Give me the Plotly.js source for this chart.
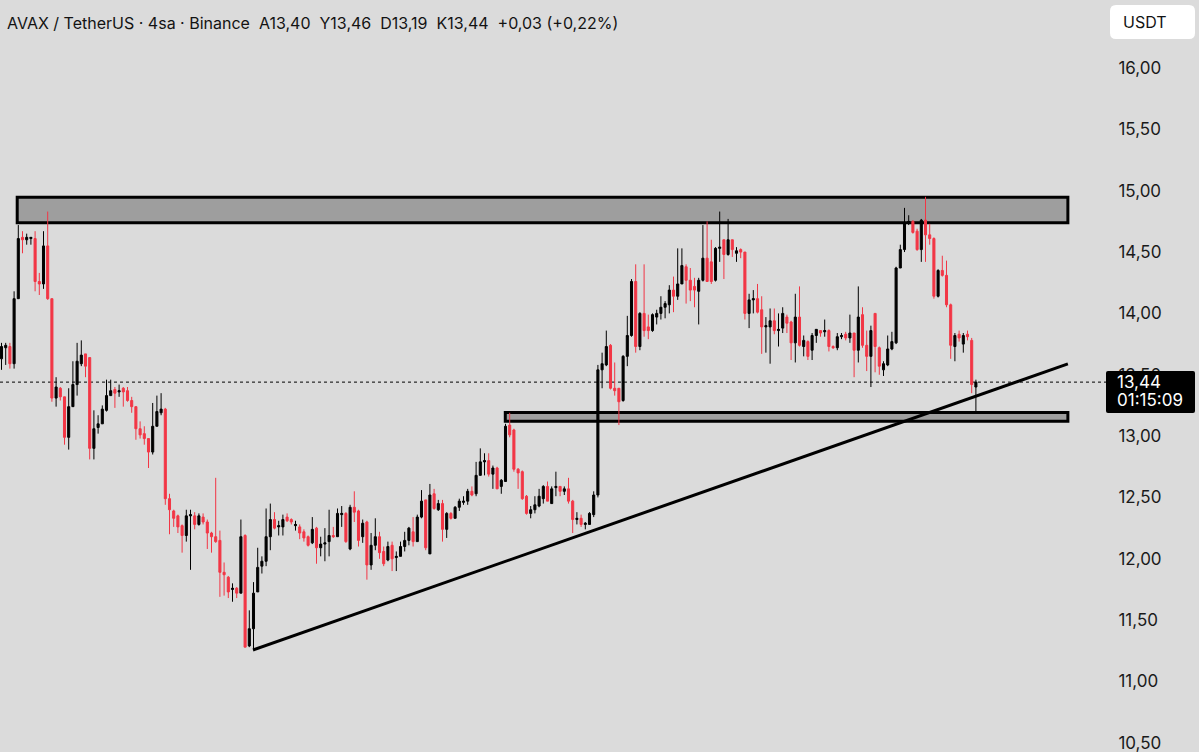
<!DOCTYPE html>
<html><head><meta charset="utf-8">
<script src="https://cdn.plot.ly/plotly-3.0.1.min.js"></script>
<style>html,body{margin:0;padding:0;background:#dbdbdb;overflow:hidden}#chart{width:1199px;height:752px}</style>
</head><body><div id="chart"></div>
<script>
// ---- data (AVAX/USDT, 4h candles) ----
const opens = [13.63,13.72,13.73,13.59,14.12,14.62,14.60,14.61,14.61,14.26,
14.24,14.55,14.12,13.31,13.39,13.32,12.99,13.24,13.42,13.59,
13.67,13.64,12.90,13.07,13.10,13.21,13.33,13.38,13.36,13.39,
13.37,13.29,13.24,13.06,13.02,12.98,12.87,13.08,13.19,13.22,
12.49,12.39,12.35,12.27,12.19,12.35,12.35,12.28,12.34,12.30,
12.21,12.18,12.15,11.89,11.85,11.75,11.76,11.72,12.19,11.29,
11.43,11.73,11.94,11.98,12.18,12.32,12.26,12.26,12.34,12.32,
12.27,12.26,12.22,12.18,12.13,12.25,12.09,12.12,12.14,12.19,
12.18,12.36,12.37,12.08,12.42,12.39,12.18,12.30,11.95,12.11,
12.18,12.06,11.99,12.11,12.01,12.02,12.10,12.15,12.22,12.14,
12.34,12.48,12.04,12.53,12.40,12.45,12.24,12.37,12.33,12.42,
12.46,12.47,12.55,12.53,12.68,12.79,12.80,12.69,12.74,12.59,
12.63,13.09,13.05,12.73,12.71,12.51,12.37,12.40,12.43,12.49,
12.59,12.45,12.58,12.59,12.55,12.57,12.47,12.32,12.33,12.28,
12.28,12.36,12.52,13.54,13.58,13.74,13.39,13.39,13.29,13.65,
13.82,14.26,13.73,14.00,13.89,13.86,13.97,14.00,14.05,14.07,
14.19,14.14,14.24,14.38,14.27,14.22,14.18,14.27,14.45,14.42,
14.27,14.53,14.60,14.48,14.60,14.49,14.52,14.50,14.00,14.11,
14.12,14.03,13.89,13.89,13.94,13.86,13.88,13.97,13.93,13.76,
13.97,13.73,13.77,13.70,13.82,13.86,13.85,13.86,13.73,13.72,
13.81,13.83,13.80,13.84,13.70,13.99,13.74,13.65,14.00,13.72,
13.54,13.58,13.71,13.76,14.37,14.52,14.74,14.75,14.67,14.52,
14.76,14.64,14.61,14.14,14.35,14.31,14.07,13.73,13.83,13.75,
13.83,13.78,13.40];
const highs = [13.76,13.76,13.76,14.18,14.72,14.67,14.65,14.62,14.67,14.33,
14.67,14.83,14.12,13.48,13.40,13.32,13.39,13.61,13.76,13.78,
13.67,13.64,13.21,13.17,13.25,13.46,13.46,13.40,13.42,13.40,
13.40,13.32,13.24,13.12,13.08,12.98,13.27,13.33,13.35,13.23,
12.53,12.40,12.36,12.28,12.40,12.40,12.38,12.37,12.37,12.32,
12.22,12.66,12.23,11.97,11.86,11.80,11.77,12.32,12.20,11.58,
11.81,12.09,12.02,12.41,12.45,12.38,12.31,12.36,12.37,12.33,
12.31,12.28,12.24,12.19,12.34,12.26,12.18,12.25,12.40,12.26,
12.41,12.43,12.38,12.44,12.55,12.40,12.32,12.31,12.21,12.33,
12.22,12.10,12.14,12.14,12.06,12.14,12.22,12.26,12.34,12.36,
12.56,12.48,12.61,12.57,12.48,12.48,12.38,12.38,12.43,12.49,
12.51,12.57,12.59,12.79,12.90,12.86,12.86,12.76,12.75,12.65,
13.10,13.19,13.06,12.74,12.72,12.52,12.43,12.51,12.57,12.60,
12.63,12.59,12.71,12.59,12.59,12.66,12.48,12.38,12.36,12.30,
12.38,12.55,13.58,13.68,13.86,13.75,13.60,13.39,13.66,13.98,
14.28,14.40,14.01,14.40,13.99,14.00,14.03,14.14,14.10,14.23,
14.30,14.53,14.53,14.40,14.37,14.29,14.29,14.72,14.75,14.60,
14.54,14.83,14.60,14.77,14.60,14.54,14.53,14.50,14.16,14.19,
14.24,14.14,13.97,14.04,14.04,14.00,14.05,13.99,13.94,14.16,
14.22,13.82,13.78,13.84,13.87,13.86,13.95,13.87,13.74,13.84,
13.84,13.85,13.99,13.84,14.22,14.05,13.86,13.90,14.00,13.73,
13.61,13.82,13.85,14.38,14.56,14.86,14.80,14.76,14.69,14.77,
14.95,14.73,14.62,14.36,14.47,14.43,14.08,13.84,13.86,13.84,
13.86,13.80,13.46];
const lows = [13.54,13.58,13.55,13.55,14.12,14.49,14.56,14.56,14.18,14.15,
14.20,14.11,13.28,13.24,13.29,12.93,12.89,13.24,13.33,13.57,
13.48,12.81,12.81,13.02,13.10,13.20,13.33,13.23,13.32,13.24,
13.28,13.19,12.97,12.98,12.93,12.74,12.85,13.08,13.17,12.44,
12.20,12.26,12.21,12.05,12.14,11.91,12.24,12.27,12.28,12.08,
12.05,12.13,11.69,11.70,11.68,11.65,11.68,11.72,11.28,11.28,
11.257,11.73,11.88,11.94,12.07,12.24,12.19,12.19,12.30,12.28,
12.23,12.16,12.14,12.10,12.12,11.96,12.02,11.98,12.02,12.17,
12.18,12.26,12.13,12.07,12.30,12.10,12.13,11.83,11.91,12.07,
12.00,11.94,11.98,11.90,11.90,12.02,12.06,12.11,12.10,12.14,
12.33,12.07,12.04,12.40,12.39,12.14,12.17,12.32,12.33,12.39,
12.44,12.44,12.51,12.51,12.68,12.68,12.67,12.57,12.57,12.53,
12.63,12.99,12.71,12.57,12.48,12.36,12.33,12.37,12.42,12.45,
12.47,12.45,12.51,12.51,12.52,12.45,12.21,12.28,12.26,12.24,
12.28,12.34,12.50,13.39,13.57,13.38,13.33,13.09,13.28,13.57,
13.81,13.68,13.70,13.81,13.79,13.85,13.91,13.95,13.96,14.00,
14.01,14.11,14.24,14.08,14.10,14.05,13.91,14.26,14.26,14.24,
14.26,14.42,14.28,14.47,14.46,14.42,14.45,13.95,13.88,14.00,
14.00,13.67,13.68,13.59,13.83,13.73,13.84,13.84,13.62,13.60,
13.73,13.65,13.62,13.62,13.76,13.81,13.81,13.69,13.71,13.70,
13.79,13.78,13.76,13.48,13.60,13.72,13.53,13.40,13.52,13.50,
13.49,13.57,13.70,13.75,14.37,14.50,14.72,14.65,14.51,14.42,
14.42,14.56,14.12,14.13,14.30,14.05,13.63,13.61,13.77,13.68,
13.78,13.35,13.19];
const closes = [13.73,13.74,13.59,14.12,14.61,14.60,14.62,14.62,14.26,14.24,
14.55,14.12,13.31,13.40,13.32,12.99,13.24,13.42,13.61,13.66,
13.57,12.90,13.06,13.10,13.22,13.33,13.37,13.35,13.37,13.36,
13.29,13.24,13.06,13.01,12.98,12.87,13.08,13.20,13.22,12.49,
12.40,12.33,12.26,12.19,12.35,12.36,12.28,12.35,12.30,12.21,
12.18,12.14,11.89,11.87,11.73,11.76,11.72,12.18,11.28,11.43,
11.72,11.93,11.98,12.18,12.32,12.25,12.27,12.32,12.31,12.30,
12.28,12.21,12.17,12.11,12.24,12.09,12.12,12.13,12.19,12.18,
12.37,12.37,12.14,12.42,12.38,12.15,12.29,11.95,12.11,12.18,
12.05,11.96,12.10,12.00,12.02,12.10,12.15,12.25,12.14,12.34,
12.47,12.09,12.52,12.41,12.45,12.24,12.37,12.33,12.42,12.47,
12.47,12.55,12.52,12.68,12.79,12.80,12.69,12.74,12.57,12.64,
13.08,13.01,12.73,12.70,12.49,12.37,12.40,12.44,12.51,12.59,
12.47,12.57,12.59,12.55,12.57,12.47,12.32,12.33,12.28,12.29,
12.37,12.52,13.54,13.59,13.73,13.39,13.37,13.28,13.65,13.82,
14.26,13.73,14.00,13.86,13.86,13.99,14.00,14.05,14.08,14.19,
14.14,14.24,14.39,14.27,14.19,14.19,14.27,14.45,14.26,14.26,
14.53,14.54,14.48,14.60,14.52,14.51,14.50,14.00,14.11,14.12,
14.01,13.89,13.90,13.94,13.86,13.87,14.00,13.92,13.76,13.97,
13.74,13.78,13.65,13.82,13.87,13.84,13.86,13.73,13.72,13.81,
13.82,13.80,13.84,13.70,13.97,13.74,13.65,13.86,13.73,13.57,
13.59,13.71,13.77,14.37,14.52,14.74,14.75,14.66,14.52,14.76,
14.64,14.61,14.14,14.35,14.31,14.07,13.74,13.82,13.80,13.82,
13.81,13.42,13.44];
const priceTicks = [10.5, 11.0, 11.5, 12.0, 12.5, 13.0, 13.5, 14.0, 14.5, 15.0, 15.5, 16.0];
const priceTickLabels = ["10,50", "11,00", "11,50", "12,00", "12,50", "13,00", "13,50", "14,00", "14,50", "15,00", "15,50", "16,00"];
const lastPrice = 13.44;
const lastLabel = ["13,44", "01:15:09"];
const headerText = "AVAX / TetherUS · 4sa · Binance\u00a0\u00a0A13,40\u00a0\u00a0Y13,46\u00a0\u00a0D13,19\u00a0\u00a0K13,44\u00a0\u00a0+0,03 (+0,22%)";
const currencyLabel = "USDT";
// drawn zones and trend line: [bar0, bar1, price0, price1]
const resistanceZone = [3.74, 253.9, 14.738, 14.946];
const supportZone = [119.95, 253.9, 13.121, 13.192];
const trendLine = [59.88, 253.9, 11.257, 13.588];

// ---- layout geometry ----
const W = 1199, H = 752, PLOT_W = 1100;
const STEP = 4.2, FIRST_PX = 1.5, PX_PER_UNIT = 122.7, TOP_PRICE_PX = 68, TOP_PRICE = 16;
const xmin = -FIRST_PX / STEP, xmax = xmin + PLOT_W / STEP;
const ymax = TOP_PRICE + TOP_PRICE_PX / PX_PER_UNIT, ymin = ymax - H / PX_PER_UNIT;
const px = v => v / PLOT_W;
const py = v => 1 - v / H;
const xs = opens.map((_, i) => i);

function roundRect(x0, y0, x1, y1, r) {
  const rx = r / PLOT_W, ry = r / H;
  const a = px(x0), b = px(x1), t = py(y0), u = py(y1);
  return `M ${a+rx},${t} L ${b-rx},${t} Q ${b},${t} ${b},${t-ry} L ${b},${u+ry} Q ${b},${u} ${b-rx},${u} L ${a+rx},${u} Q ${a},${u} ${a},${u+ry} L ${a},${t-ry} Q ${a},${t} ${a+rx},${t} Z`;
}

const RED = '#f23645', BLACK = '#000000', BG = '#dbdbdb', ZONE = '#9e9e9e';
const FONT = 'Inter, "Open Sans", sans-serif';

const trace = {
  type: 'candlestick', x: xs, open: opens, high: highs, low: lows, close: closes,
  increasing: {line: {color: BLACK, width: 1}, fillcolor: BLACK},
  decreasing: {line: {color: RED, width: 1}, fillcolor: RED},
  whiskerwidth: 0, hoverinfo: 'skip', showlegend: false
};

const layout = {
  width: W, height: H, margin: {l: 0, r: W - PLOT_W, t: 0, b: 0},
  paper_bgcolor: BG, plot_bgcolor: BG, separators: ',.', boxgap: 0.3,
  showlegend: false,
  xaxis: {range: [xmin, xmax], visible: false, rangeslider: {visible: false}, fixedrange: true},
  yaxis: {range: [ymin, ymax], side: 'right', showgrid: false, zeroline: false, showline: false,
    tickmode: 'array', tickvals: priceTicks, ticktext: priceTickLabels,
    ticks: 'outside', ticklen: 14, tickcolor: 'rgba(0,0,0,0)',
    ticklabeloverflow: 'allow',
    tickfont: {family: FONT, size: 17, color: '#1a1a1a'}, fixedrange: true},
  shapes: [
    {type: 'rect', xref: 'x', yref: 'y', x0: resistanceZone[0], x1: resistanceZone[1], y0: resistanceZone[2], y1: resistanceZone[3],
      fillcolor: ZONE, line: {color: BLACK, width: 3}, layer: 'below'},
    {type: 'rect', xref: 'x', yref: 'y', x0: supportZone[0], x1: supportZone[1], y0: supportZone[2], y1: supportZone[3],
      fillcolor: ZONE, line: {color: BLACK, width: 3}, layer: 'below'},
    {type: 'line', xref: 'paper', yref: 'y', x0: 0, x1: px(1106), y0: lastPrice, y1: lastPrice,
      line: {color: BLACK, width: 1, dash: 'dot'}, layer: 'below'},
    {type: 'line', xref: 'x', yref: 'y', x0: trendLine[0], x1: trendLine[1], y0: trendLine[2], y1: trendLine[3],
      line: {color: BLACK, width: 3}, layer: 'above'},
    {type: 'path', xref: 'paper', yref: 'paper', path: roundRect(1106, 371, 1195, 413, 2),
      fillcolor: BLACK, line: {width: 0}, layer: 'above'},
    {type: 'path', xref: 'paper', yref: 'paper', path: roundRect(1110, 5, 1195, 39, 6),
      fillcolor: '#ffffff', line: {width: 0}, layer: 'above'}
  ],
  annotations: [
    {xref: 'paper', yref: 'paper', x: px(5), y: py(23), xanchor: 'left', yanchor: 'middle', showarrow: false,
      text: headerText, font: {family: FONT, size: 16, color: '#131313'}},
    {xref: 'paper', yref: 'paper', x: px(1121), y: py(22), xanchor: 'left', yanchor: 'middle', showarrow: false,
      text: currencyLabel, font: {family: FONT, size: 16, color: '#131313'}},
    {xref: 'paper', yref: 'paper', x: px(1115), y: py(382), xanchor: 'left', yanchor: 'middle', showarrow: false,
      text: lastLabel[0], font: {family: FONT, size: 17, color: '#ffffff'}},
    {xref: 'paper', yref: 'paper', x: px(1115), y: py(400), xanchor: 'left', yanchor: 'middle', showarrow: false,
      text: lastLabel[1], font: {family: FONT, size: 17, color: '#ffffff'}}
  ]
};

Plotly.newPlot('chart', [trace], layout, {staticPlot: true, displayModeBar: false});
</script></body></html>
